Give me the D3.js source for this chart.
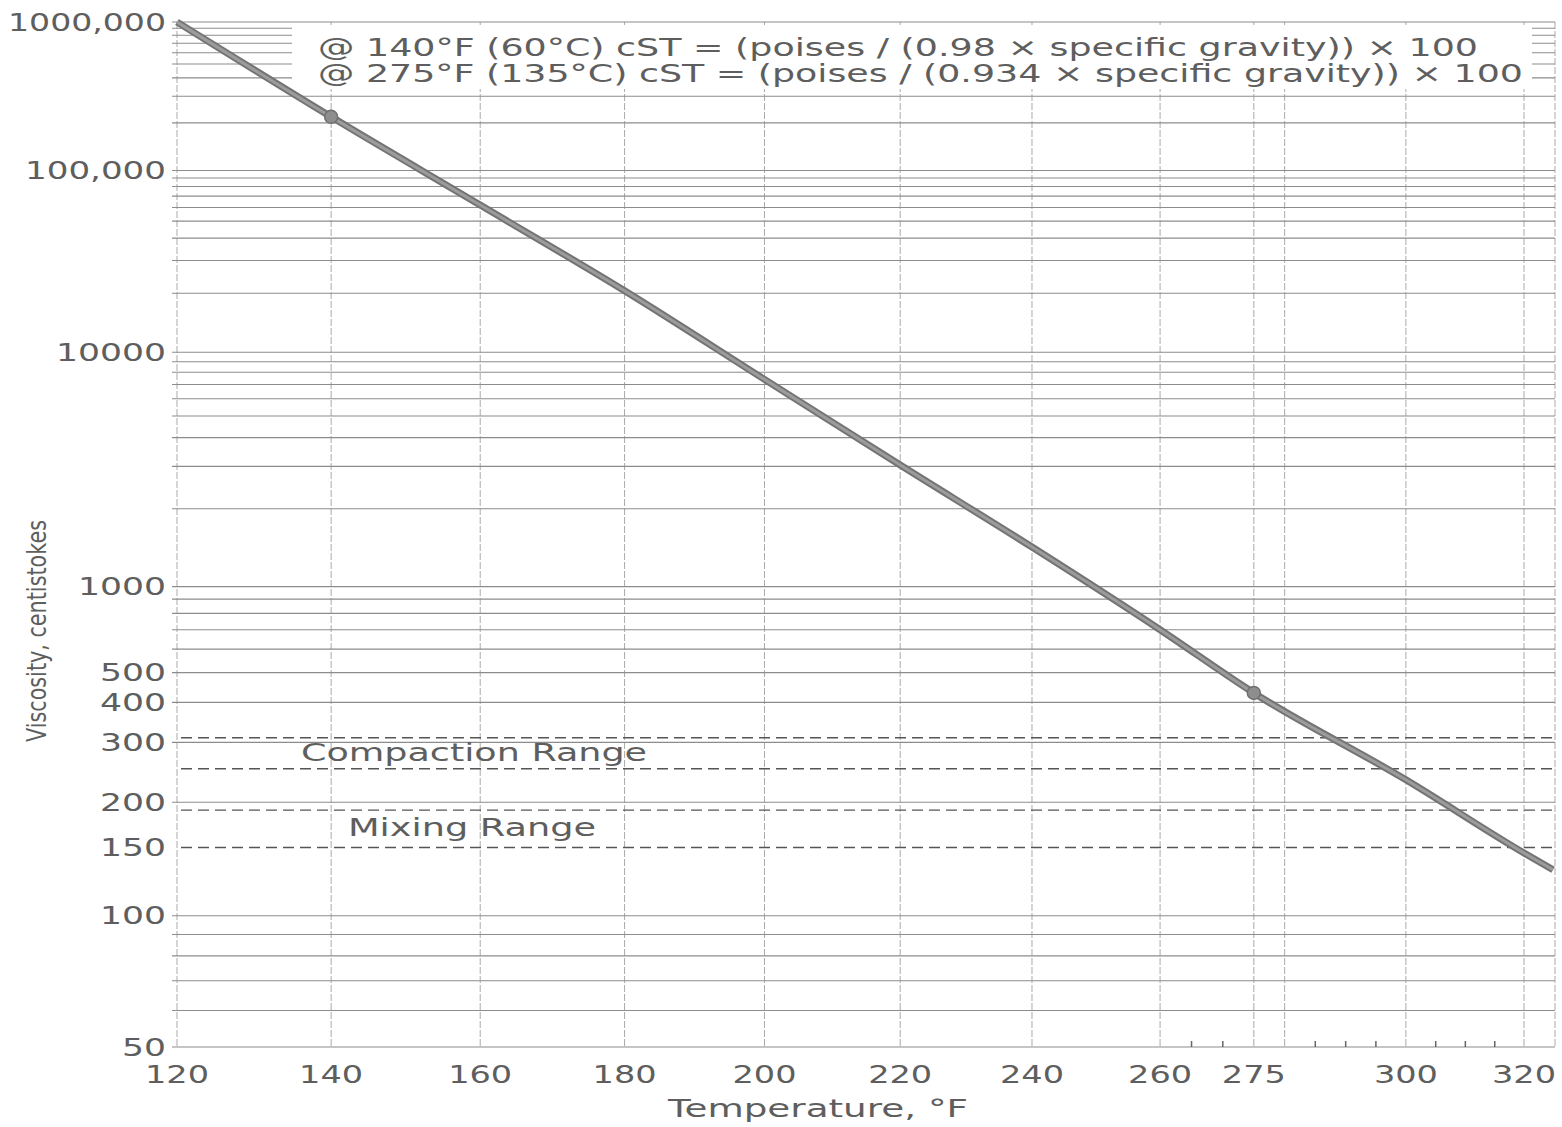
<!DOCTYPE html>
<html>
<head>
<meta charset="utf-8">
<script src="https://cdn.jsdelivr.net/npm/d3@7"></script>
<style>
  body { margin: 0; background: #fff; }
  svg text { font-family: 'DejaVu Sans', sans-serif; fill: #5e5e5e; }
</style>
</head>
<body>
<div id="chart"></div>
<script>
// viscosity line (°F, centistokes)
const temps = [120, 140, 160, 180, 200, 220, 240, 260, 275, 300, 320, 325]
const viscosity = [1000000, 219000, 62000, 20600, 7400, 3040, 1410, 700, 429, 232, 145, 131]

// the two measured points
const markTemps = [140, 275]
const markVisc = [219000, 429]

// x axis
const xTicks = [120, 140, 160, 180, 200, 220, 240, 260, 275, 300, 320]
const xGrid = [120, 140, 160, 180, 200, 220, 240, 260, 275, 280, 300, 320]
const xMinor = [265, 270, 285, 290, 295, 305, 310, 315]

// y axis
const yTicks = [1000000, 100000, 10000, 1000, 500, 400, 300, 200, 150, 100, 50]
const yTickLabels = ['1000,000', '100,000', '10000', '1000', '500', '400', '300', '200', '150', '100', '50']

// compaction and mixing ranges
const rangeLines = [310, 250, 190, 150]
const rangeNames = ['Compaction Range', 'Mixing Range']
const rangeMid = [280, 170]

const notes = [
  '@ 140°F (60°C) cST = (poises / (0.98 × specific gravity)) × 100',
  '@ 275°F (135°C) cST = (poises / (0.934 × specific gravity)) × 100'
]

const width = 1562
const height = 1127
const plotLeft = 177
const plotRight = 1555
const plotTop = 22
const plotBottom = 1047

// temperature on log Rankine
const xs = d3.scaleLog().domain([580, 780]).range([plotLeft, 1524])
const x = t => xs(t + 460)

// viscosity on log-log (Walther) scale
const walther = v => Math.log10(Math.log10(v + 0.7))
const ys = d3.scaleLinear().domain([walther(50), walther(1000000)]).range([plotBottom, plotTop])
const y = v => ys(walther(v))

// horizontal grid values
const yGrid = []
for (let d = 10; d <= 100000; d *= 10) {
  for (let k = 1; k <= 10; k++) {
    const v = k * d
    if (v < 50 || v > 1000000) continue
    yGrid.push(v)
  }
}

const svg = d3.select('#chart')
  .append('svg')
  .attr('width', width)
  .attr('height', height)

const grid = svg.append('g')

grid.selectAll('line.v')
  .data(xGrid)
  .enter()
  .append('line')
  .attr('x1', d => x(d))
  .attr('x2', d => x(d))
  .attr('y1', plotTop)
  .attr('y2', plotBottom)
  .attr('stroke', '#aaa')
  .attr('stroke-width', 1)
  .attr('stroke-dasharray', '7,2')

// right frame
grid.append('line')
  .attr('x1', plotRight).attr('x2', plotRight)
  .attr('y1', plotTop).attr('y2', plotBottom)
  .attr('stroke', '#aaa')
  .attr('stroke-dasharray', '7,2')

grid.selectAll('line.h')
  .data(Array.from(new Set(yGrid)))
  .enter()
  .append('line')
  .attr('x1', plotLeft - 5)
  .attr('x2', plotRight)
  .attr('y1', d => y(d))
  .attr('y2', d => y(d))
  .attr('stroke', '#8c8c8c')
  .attr('stroke-width', 1.1)

// small ticks along the bottom
grid.selectAll('line.minor')
  .data(xMinor)
  .enter()
  .append('line')
  .attr('x1', d => x(d))
  .attr('x2', d => x(d))
  .attr('y1', plotBottom - 6)
  .attr('y2', plotBottom)
  .attr('stroke', '#666')
  .attr('stroke-width', 1.5)

// dashed range lines
svg.selectAll('line.range')
  .data(rangeLines)
  .enter()
  .append('line')
  .attr('x1', plotLeft + 4)
  .attr('x2', plotRight)
  .attr('y1', d => y(d))
  .attr('y2', d => y(d))
  .attr('stroke', '#555')
  .attr('stroke-width', 1.4)
  .attr('stroke-dasharray', '11,6')

svg.selectAll('text.range')
  .data(rangeNames)
  .enter()
  .append('text')
  .attr('x', (d, i) => [474, 472][i])
  .attr('y', (d, i) => y(rangeMid[i]))
  .attr('dy', '0.36em')
  .attr('text-anchor', 'middle')
  .attr('font-size', 24)
  .attr('textLength', (d, i) => [346, 248][i])
  .attr('lengthAdjust', 'spacingAndGlyphs')
  .text(d => d)

// note box over the grid
svg.append('rect')
  .attr('x', 292)
  .attr('y', 25)
  .attr('width', 1240)
  .attr('height', 64)
  .attr('fill', '#fff')

svg.selectAll('text.note')
  .data(notes)
  .enter()
  .append('text')
  .attr('x', 318)
  .attr('y', (d, i) => 56 + i * 26)
  .attr('font-size', 25)
  .attr('textLength', (d, i) => [1160, 1205][i])
  .attr('lengthAdjust', 'spacingAndGlyphs')
  .text(d => d)

// viscosity line
const line = d3.line()
  .x(d => x(d[0]))
  .y(d => y(d[1]))
  .curve(d3.curveMonotoneX)

const pts = temps.map((t, i) => [t, viscosity[i]])

svg.append('path')
  .datum(pts)
  .attr('d', line)
  .attr('fill', 'none')
  .attr('stroke', '#747474')
  .attr('stroke-width', 7)

svg.append('path')
  .datum(pts)
  .attr('d', line)
  .attr('fill', 'none')
  .attr('stroke', '#9c9c9c')
  .attr('stroke-width', 3)

svg.selectAll('circle')
  .data(markTemps)
  .enter()
  .append('circle')
  .attr('cx', d => x(d))
  .attr('cy', (d, i) => y(markVisc[i]))
  .attr('r', 6.5)
  .attr('fill', '#8e8e8e')
  .attr('stroke', '#707070')
  .attr('stroke-width', 1.5)

// y tick labels
svg.selectAll('text.ytick')
  .data(yTicks)
  .enter()
  .append('text')
  .attr('x', 166)
  .attr('y', d => y(d))
  .attr('dy', '0.36em')
  .attr('text-anchor', 'end')
  .attr('font-size', 24)
  .attr('textLength', (d, i) => {
    const n = yTickLabels[i].length
    return n === 8 ? 158 : n === 7 ? 141 : n * 22
  })
  .attr('lengthAdjust', 'spacingAndGlyphs')
  .text((d, i) => yTickLabels[i])

// x tick labels
svg.selectAll('text.xtick')
  .data(xTicks)
  .enter()
  .append('text')
  .attr('x', d => x(d))
  .attr('y', 1074)
  .attr('dy', '0.36em')
  .attr('text-anchor', 'middle')
  .attr('font-size', 24)
  .attr('textLength', 64)
  .attr('lengthAdjust', 'spacingAndGlyphs')
  .text(d => d)

// axis titles
svg.append('text')
  .attr('x', 818)
  .attr('y', 1108)
  .attr('dy', '0.36em')
  .attr('text-anchor', 'middle')
  .attr('font-size', 24)
  .attr('textLength', 300)
  .attr('lengthAdjust', 'spacingAndGlyphs')
  .text('Temperature, °F')

svg.append('text')
  .attr('transform', 'translate(36, 631) rotate(-90)')
  .attr('text-anchor', 'middle')
  .attr('dy', '0.36em')
  .attr('font-size', 27)
  .style('font-family', "'Liberation Sans Narrow', 'DejaVu Sans Condensed', sans-serif")
  .attr('textLength', 222)
  .attr('lengthAdjust', 'spacingAndGlyphs')
  .text('Viscosity, centistokes')
</script>
</body>
</html>
